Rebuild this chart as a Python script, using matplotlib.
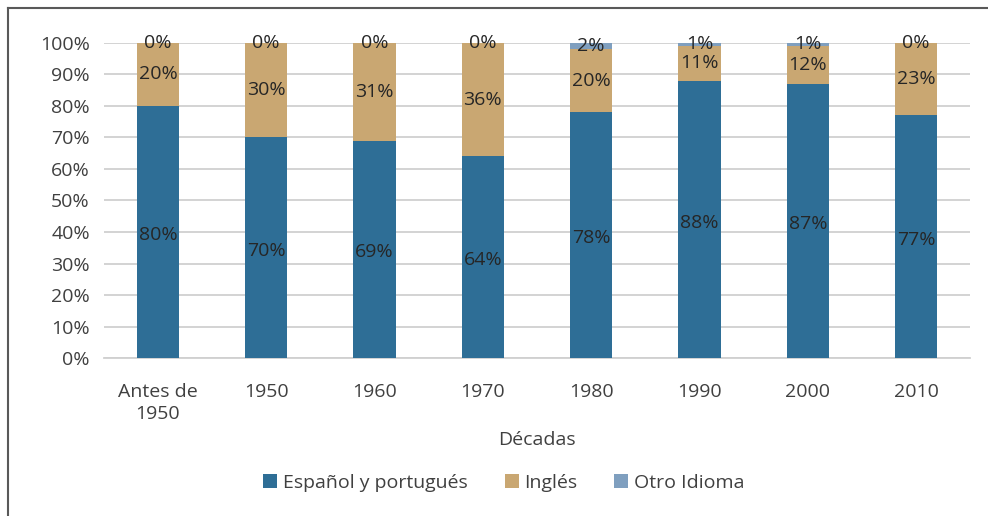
import matplotlib.pyplot as plt
import numpy as np
from matplotlib.lines import Line2D

decadas = ['Antes de\n1950', '1950', '1960', '1970', '1980', '1990', '2000', '2010']
espanol = [80, 70, 69, 64, 78, 88, 87, 77]
ingles = [20, 30, 31, 36, 20, 11, 12, 23]
otro = [0, 0, 0, 0, 2, 1, 1, 0]

plt.rcParams['font.family'] = ['Open Sans', 'DejaVu Sans']
txt = '#404040'
fs = 14

fig = plt.figure(figsize=(9.88, 5.16), dpi=100)
ax = fig.add_axes([0.105, 0.306, 0.877, 0.611])

x = np.arange(len(decadas))
w = 0.39
b1 = ax.bar(x, espanol, w, color='#2E6E96', label='Español y portugués', zorder=3)
b2 = ax.bar(x, ingles, w, bottom=espanol, color='#C9A772', label='Inglés', zorder=3)
bottom3 = np.array(espanol) + np.array(ingles)
b3 = ax.bar(x, otro, w, bottom=bottom3, color='#7F9FBF', label='Otro Idioma', zorder=3)

for i in range(len(x)):
    ax.text(x[i], espanol[i] / 2 - 1, f'{espanol[i]}%', ha='center', va='center', fontsize=fs, color='#262626', zorder=4)
    ax.text(x[i], espanol[i] + ingles[i] / 2, f'{ingles[i]}%', ha='center', va='center', fontsize=fs, color='#262626', zorder=4)
    ax.text(x[i], bottom3[i] + otro[i] / 2, f'{otro[i]}%', ha='center', va='center', fontsize=fs, color='#262626', zorder=4)

ax.set_xlim(-0.5, len(x) - 0.5)
ax.set_ylim(0, 100)
ax.set_yticks(range(0, 101, 10))
ax.set_yticklabels([f'{v}%' for v in range(0, 101, 10)])
ax.set_xticks(x)
ax.set_xticklabels(decadas, linespacing=1.25)
ax.tick_params(axis='both', length=0, labelsize=fs, colors=txt)
ax.tick_params(axis='x', pad=18)
ax.tick_params(axis='y', pad=10)
ax.grid(axis='y', color='#D0D0D0', linewidth=1.3, zorder=0)
for s in ['top', 'right', 'left']:
    ax.spines[s].set_visible(False)
ax.spines['bottom'].set_color('#D0D0D0')
ax.spines['bottom'].set_linewidth(1.3)

ax.set_xlabel('Décadas', fontsize=fs, color=txt, labelpad=6)

fig.legend(handles=[b1, b2, b3], loc='center', bbox_to_anchor=(0.51, 0.064), ncol=3,
           frameon=False, fontsize=fs, handlelength=0.72, handleheight=0.72,
           handletextpad=0.3, columnspacing=1.9, labelcolor=txt)

# marco parcial (izquierda y arriba)
fig.add_artist(Line2D([0.0085, 0.0085], [0, 0.984], transform=fig.transFigure, color='#595959', linewidth=1.5))
fig.add_artist(Line2D([0.0085, 1], [0.984, 0.984], transform=fig.transFigure, color='#595959', linewidth=1.5))

plt.savefig('out.png', dpi=100)
plt.close()
